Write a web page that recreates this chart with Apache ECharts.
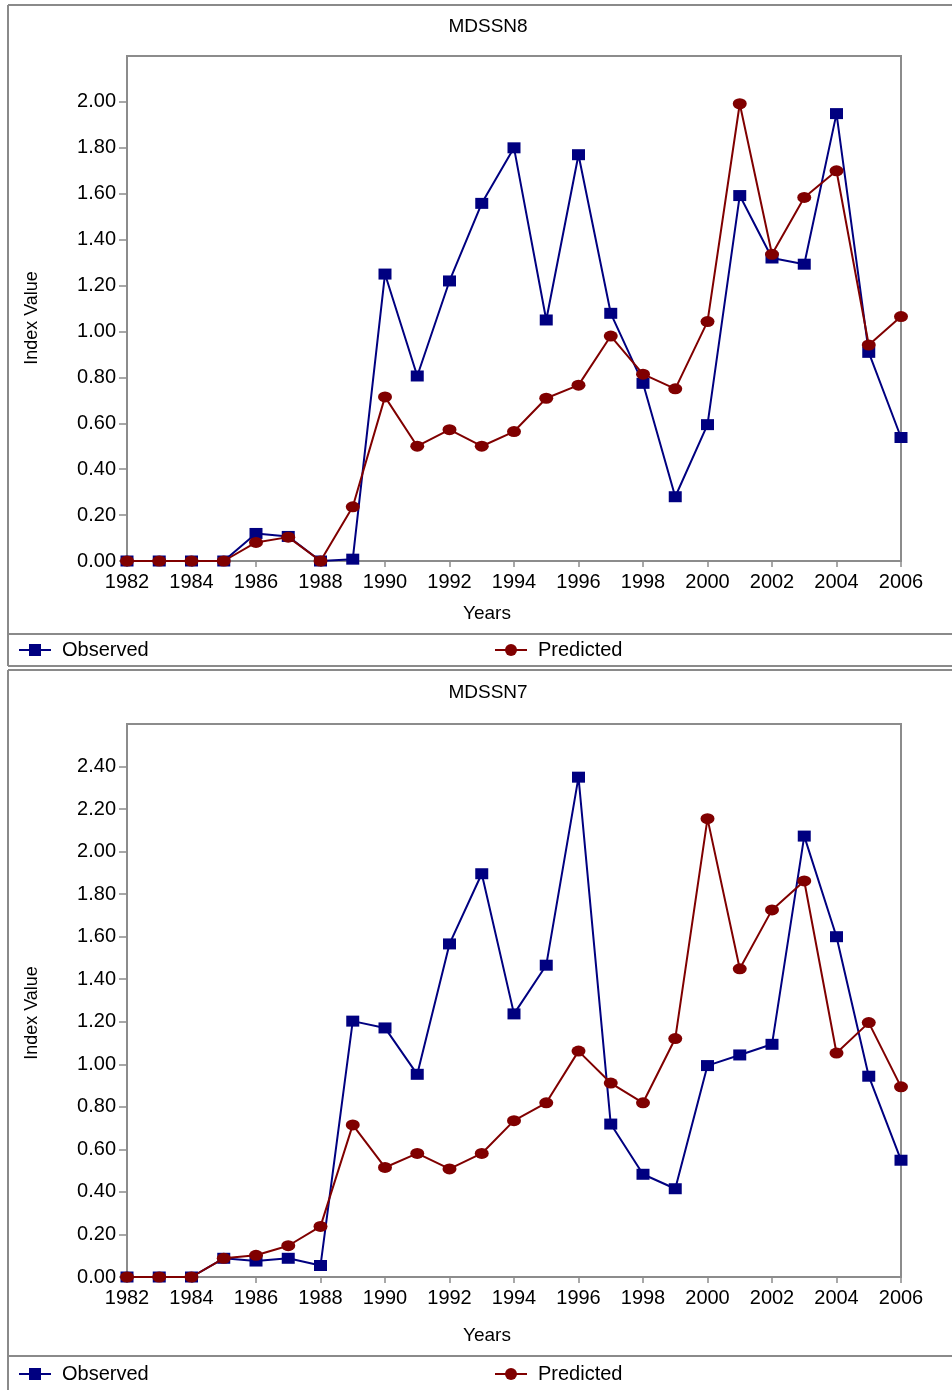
<!DOCTYPE html>
<html>
<head>
<meta charset="utf-8">
<script src="https://cdn.jsdelivr.net/npm/echarts@6/dist/echarts.min.js"></script>
<style>
html,body{margin:0;padding:0;background:#fff;}
#c{width:952px;height:1390px;}
</style>
</head>
<body>
<div id="c"></div>
<script>
const years = [1982,1983,1984,1985,1986,1987,1988,1989,1990,1991,1992,1993,1994,1995,1996,1997,1998,1999,2000,2001,2002,2003,2004,2005,2006];
const xTickLabels = [1982,1984,1986,1988,1990,1992,1994,1996,1998,2000,2002,2004,2006];

// MDSSN8
const n8Observed  = [0,0,0,0,0.12,0.107,0.0,0.008,1.25,0.806,1.22,1.558,1.80,1.05,1.77,1.079,0.774,0.28,0.594,1.592,1.32,1.293,1.949,0.909,0.538];
const n8Predicted = [0,0,0,0,0.081,0.104,0,0.236,0.715,0.50,0.572,0.50,0.564,0.709,0.766,0.98,0.814,0.75,1.043,1.992,1.336,1.584,1.70,0.941,1.065];
const n8YTicks = [0,0.2,0.4,0.6,0.8,1.0,1.2,1.4,1.6,1.8,2.0];

// MDSSN7
const n7Observed  = [0,0,0,0.088,0.075,0.088,0.054,1.203,1.171,0.953,1.566,1.896,1.237,1.466,2.35,0.719,0.483,0.415,0.994,1.044,1.094,2.073,1.60,0.944,0.549];
const n7Predicted = [0,0,0,0.088,0.102,0.147,0.238,0.715,0.515,0.581,0.508,0.581,0.735,0.819,1.062,0.912,0.819,1.121,2.155,1.449,1.726,1.862,1.053,1.196,0.894];
const n7YTicks = [0,0.2,0.4,0.6,0.8,1.0,1.2,1.4,1.6,1.8,2.0,2.2,2.4];

const titles = ['MDSSN8','MDSSN7'];
const seriesNames = ['Observed','Predicted'];

const BLUE = '#000080', RED = '#800000', GRAY = '#8c8c8c';
const FONT = 'Liberation Sans, Arial, sans-serif';

const pairs = (vals) => years.map((y,i) => [y, vals[i]]);

function xAxis(gi){
  return {
    type:'value', gridIndex:gi, min:1982, max:2006, interval:2,
    axisLine:{show:true, lineStyle:{color:GRAY, width:2}},
    axisTick:{show:true, length:6, lineStyle:{color:GRAY, width:1.5}, customValues: xTickLabels},
    axisLabel:{color:'#000', fontFamily:FONT, fontSize:20, margin:11, customValues: xTickLabels, formatter:(v)=>String(v)},
    splitLine:{show:false}
  };
}
function yAxis(gi, max, ticks){
  return {
    type:'value', gridIndex:gi, min:0, max:max, interval:0.2,
    axisLine:{show:true, lineStyle:{color:GRAY, width:2}},
    axisTick:{show:true, length:8, lineStyle:{color:GRAY, width:1.5}, customValues: ticks},
    axisLabel:{color:'#000', fontFamily:FONT, fontSize:20, margin:11, customValues: ticks, formatter:(v)=>Number(v).toFixed(2)},
    splitLine:{show:false}
  };
}
function series(name, vals, gi){
  const obs = name === 'Observed';
  return {
    type:'line', name:name, xAxisIndex:gi, yAxisIndex:gi,
    data: pairs(vals),
    symbol: obs ? 'rect' : 'circle',
    symbolSize: obs ? [13,11] : [14,11],
    showAllSymbol:true,
    itemStyle:{color: obs ? BLUE : RED},
    lineStyle:{color: obs ? BLUE : RED, width:2},
    z: obs ? 2 : 3,
    animation:false
  };
}
function legendAt(name, left, top){
  return {
    data:[name], left:left, top:top, orient:'horizontal',
    itemWidth:32, itemHeight:15, selectedMode:false,
    textStyle:{color:'#000', fontFamily:FONT, fontSize:20, padding:[0,0,0,6]}
  };
}

const lineStyle = {stroke:'#8a8a8a', lineWidth:2};
function hline(y, x1, x2){ return {type:'line', shape:{x1:x1, y1:y, x2:x2, y2:y}, style:lineStyle, silent:true}; }
function vline(x, y1, y2){ return {type:'line', shape:{x1:x, y1:y1, x2:x, y2:y2}, style:lineStyle, silent:true}; }
function txt(text, x, y, size, rot){
  return {type:'text', x:x, y:y, rotation: rot||0,
    style:{text:text, fill:'#000', font: size+'px '+FONT, textAlign:'center', textVerticalAlign:'middle'}, silent:true};
}

const option = {
  backgroundColor:'#fff',
  animation:false,
  grid:[
    {left:127, top:56, right:51, height:505, show:true, borderColor:GRAY, borderWidth:2, backgroundColor:'transparent'},
    {left:127, top:724, right:51, height:553, show:true, borderColor:GRAY, borderWidth:2, backgroundColor:'transparent'}
  ],
  xAxis:[xAxis(0), xAxis(1)],
  yAxis:[yAxis(0, 2.2, n8YTicks), yAxis(1, 2.6, n7YTicks)],
  legend:[
    legendAt(seriesNames[0], 13, 635),
    legendAt(seriesNames[1], 489, 635),
    legendAt(seriesNames[0], 13, 1359),
    legendAt(seriesNames[1], 489, 1359)
  ],
  series:[
    series('Observed', n8Observed, 0),
    series('Predicted', n8Predicted, 0),
    series('Observed', n7Observed, 1),
    series('Predicted', n7Predicted, 1)
  ],
  graphic:[
    hline(5, 8, 952), hline(634, 8, 952), hline(666, 8, 952), hline(670, 8, 952), hline(1356, 8, 952),
    vline(8, 5, 666), vline(8, 670, 1390),
    txt(titles[0], 488, 27, 19),
    txt(titles[1], 488, 693, 19),
    txt('Years', 487, 614, 19),
    txt('Years', 487, 1336, 19),
    txt('Index Value', 32, 318, 18, Math.PI/2),
    txt('Index Value', 32, 1013, 18, Math.PI/2)
  ]
};

const chart = echarts.init(document.getElementById('c'), null, {renderer:'canvas'});
chart.setOption(option);
</script>
</body>
</html>
